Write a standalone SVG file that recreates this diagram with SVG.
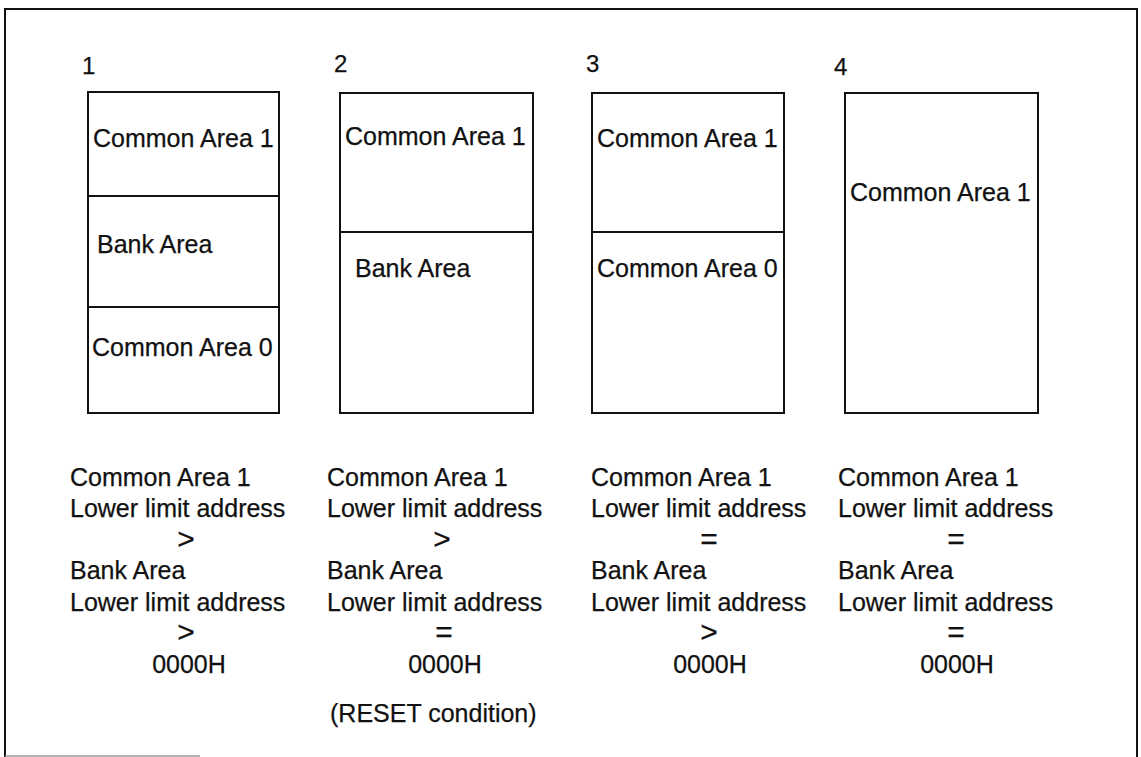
<svg xmlns="http://www.w3.org/2000/svg" width="1141" height="757" viewBox="0 0 1141 757">
<style>
text{font-family:"Liberation Sans",Arial,sans-serif;font-size:25px;fill:#111;stroke:#111;stroke-width:0.25}
.num{font-size:24px}
.c{text-anchor:middle}
.op{font-size:30px;text-anchor:middle}
.box{fill:none;stroke:#111;stroke-width:2}
.div{stroke:#111;stroke-width:2}
.frame{fill:none;stroke:#111;stroke-width:2}
</style>
<rect width="1141" height="757" fill="#fff"/>
<g id="frame">
<polyline class="frame" points="5,757 5,9 1137,9 1137,757"/>
<line x1="5" y1="756" x2="200" y2="756" stroke="#999" stroke-width="1.5"/>
</g>
<g id="map1">
<text class="num" x="82" y="74">1</text>
<rect class="box" x="88" y="92" width="191" height="321"/>
<line class="div" x1="88" y1="196" x2="279" y2="196"/>
<line class="div" x1="88" y1="307" x2="279" y2="307"/>
<text x="93" y="147">Common Area 1</text>
<text x="97" y="253">Bank Area</text>
<text x="92" y="356">Common Area 0</text>
</g>
<g id="map2">
<text class="num" x="334" y="72">2</text>
<rect class="box" x="340" y="93" width="193" height="320"/>
<line class="div" x1="340" y1="232" x2="533" y2="232"/>
<text x="345" y="145">Common Area 1</text>
<text x="355" y="277">Bank Area</text>
</g>
<g id="map3">
<text class="num" x="586" y="72">3</text>
<rect class="box" x="592" y="93" width="192" height="320"/>
<line class="div" x1="592" y1="232" x2="784" y2="232"/>
<text x="597" y="147">Common Area 1</text>
<text x="597" y="277">Common Area 0</text>
</g>
<g id="map4">
<text class="num" x="834" y="75">4</text>
<rect class="box" x="845" y="93" width="193" height="320"/>
<text x="850" y="201">Common Area 1</text>
</g>
<g id="cond1">
<text x="70" y="486">Common Area 1</text>
<text x="70" y="517">Lower limit address</text>
<text class="op" x="186" y="549">&gt;</text>
<text x="70" y="579">Bank Area</text>
<text x="70" y="611">Lower limit address</text>
<text class="op" x="186" y="642">&gt;</text>
<text class="c" x="189" y="673">0000H</text>
</g>
<g id="cond2">
<text x="327" y="486">Common Area 1</text>
<text x="327" y="517">Lower limit address</text>
<text class="op" x="442" y="549">&gt;</text>
<text x="327" y="579">Bank Area</text>
<text x="327" y="611">Lower limit address</text>
<text class="op" x="444" y="642">=</text>
<text class="c" x="445" y="673">0000H</text>
<text x="330" y="722">(RESET condition)</text>
</g>
<g id="cond3">
<text x="591" y="486">Common Area 1</text>
<text x="591" y="517">Lower limit address</text>
<text class="op" x="709" y="549">=</text>
<text x="591" y="579">Bank Area</text>
<text x="591" y="611">Lower limit address</text>
<text class="op" x="709" y="642">&gt;</text>
<text class="c" x="710" y="673">0000H</text>
</g>
<g id="cond4">
<text x="838" y="486">Common Area 1</text>
<text x="838" y="517">Lower limit address</text>
<text class="op" x="956" y="549">=</text>
<text x="838" y="579">Bank Area</text>
<text x="838" y="611">Lower limit address</text>
<text class="op" x="956" y="642">=</text>
<text class="c" x="957" y="673">0000H</text>
</g>
</svg>
